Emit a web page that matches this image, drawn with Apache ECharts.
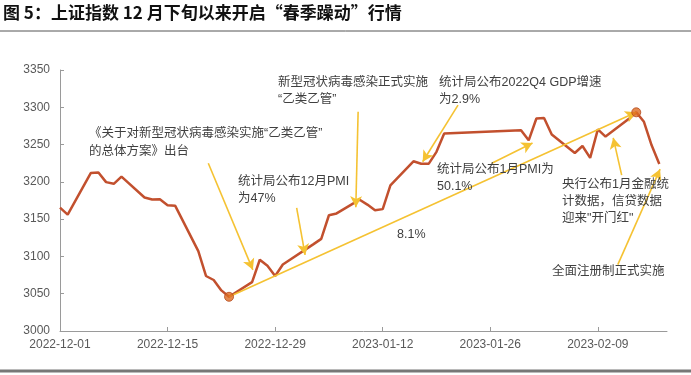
<!DOCTYPE html>
<html>
<head>
<meta charset="utf-8">
<script src="https://cdn.jsdelivr.net/npm/echarts@6/dist/echarts.min.js"></script>
<style>
  html, body { margin: 0; padding: 0; background: #fff; }
  #chart { width: 691px; height: 375px; }
</style>
</head>
<body>
<div id="chart"></div>
<script>
// trading days and SSE composite closes
const dates = [
  '2022-12-01', '2022-12-02', '2022-12-05', '2022-12-06', '2022-12-07', '2022-12-08', '2022-12-09',
  '2022-12-12', '2022-12-13', '2022-12-14', '2022-12-15', '2022-12-16', '2022-12-19', '2022-12-20',
  '2022-12-21', '2022-12-22', '2022-12-23', '2022-12-26', '2022-12-27', '2022-12-28', '2022-12-29',
  '2022-12-30', '2023-01-03', '2023-01-04', '2023-01-05', '2023-01-06', '2023-01-09', '2023-01-10',
  '2023-01-11', '2023-01-12', '2023-01-13', '2023-01-16', '2023-01-17', '2023-01-18', '2023-01-19',
  '2023-01-20', '2023-01-30', '2023-01-31', '2023-02-01', '2023-02-02', '2023-02-03', '2023-02-06',
  '2023-02-07', '2023-02-08', '2023-02-09', '2023-02-10', '2023-02-13', '2023-02-14', '2023-02-15',
  '2023-02-16', '2023-02-17'
]
const closes = [
  3165.47, 3156.14, 3211.81, 3212.53, 3199.62, 3197.35, 3206.95,
  3179.04, 3176.33, 3176.53, 3168.65, 3167.86, 3107.12, 3073.77,
  3068.41, 3054.43, 3045.87, 3065.56, 3095.57, 3087.40, 3073.70,
  3089.26, 3116.51, 3123.52, 3155.22, 3157.64, 3176.08, 3169.51,
  3161.84, 3163.45, 3195.31, 3227.59, 3224.24, 3224.41, 3240.28,
  3264.81, 3269.32, 3255.67, 3284.92, 3285.67, 3263.41, 3238.70,
  3248.09, 3232.11, 3270.38, 3260.67, 3284.16, 3293.28, 3280.49,
  3249.03, 3224.02
]
const startDate = '2022-12-01'
const yTicks = [3000, 3350, 50]

// annotation arrows in data units: [fromDay, fromValue, toDay, toValue]
const arrows = [
  [19.3, 3225, 25.1, 3082],
  [30.8, 3165, 31.9, 3102],
  [38.8, 3294, 38.5, 3166],
  [51.8, 3303, 47.2, 3227],
  [56.2, 3225, 61.5, 3252],
  [73.1, 3209, 72.0, 3259],
  [72.6, 3089, 78.1, 3217]
]
const notes = [
  ['《关于对新型冠状病毒感染实施“乙类乙管”', 89, 134],
  ['的总体方案》出台', 89, 152],
  ['统计局公布12月PMI', 238, 182],
  ['为47%', 238, 199],
  ['新型冠状病毒感染正式实施', 278, 83],
  ['“乙类乙管”', 278, 100],
  ['统计局公布2022Q4 GDP增速', 439, 83],
  ['为2.9%', 439, 100],
  ['统计局公布1月PMI为', 437, 170],
  ['50.1%', 437, 187],
  ['央行公布1月金融统', 562, 185],
  ['计数据，信贷数据', 562, 202],
  ['迎来"开门红"', 562, 219],
  ['全面注册制正式实施', 552, 272],
  ['8.1%', 397, 235]
]

const DAY = 86400000
function dayIndex(s) {
  const a = s.split('-').map(Number)
  const b = startDate.split('-').map(Number)
  return Math.round((Date.UTC(a[0], a[1] - 1, a[2]) - Date.UTC(b[0], b[1] - 1, b[2])) / DAY)
}
function dayLabel(n) {
  const b = startDate.split('-').map(Number)
  const d = new Date(Date.UTC(b[0], b[1] - 1, b[2]) + n * DAY)
  const p = v => String(v).padStart(2, '0')
  return d.getUTCFullYear() + '-' + p(d.getUTCMonth() + 1) + '-' + p(d.getUTCDate())
}

const lineData = dates.map((d, i) => [dayIndex(d), closes[i]])
let lo = 0
let hi = 0
closes.forEach((v, i) => {
  if (v < closes[lo]) lo = i
  if (v > closes[hi]) hi = i
})
const extremes = [lineData[lo], lineData[hi]]

const markData = arrows.map(a => [{ coord: [a[0], a[1]] }, { coord: [a[2], a[3]] }])
markData.push([{ coord: extremes[0] }, { coord: extremes[1] }])

const font = '"Liberation Sans", "Noto Sans CJK SC", sans-serif'
const textColor = '#404040'
const yellow = '#F5C232'

const chart = echarts.init(document.getElementById('chart'), null, { renderer: 'canvas' })
chart.setOption({
  animation: false,
  backgroundColor: '#fff',
  grid: { left: 60, right: 24, top: 70, bottom: 44 },
  xAxis: {
    type: 'value',
    min: 0,
    max: 79,
    interval: 14,
    splitLine: { show: false },
    axisLine: { lineStyle: { color: '#9a9a9a', width: 1 } },
    axisTick: { inside: true, length: 4, lineStyle: { color: '#9a9a9a' } },
    axisLabel: {
      color: '#595959',
      fontSize: 12,
      fontFamily: font,
      margin: 8,
      showMaxLabel: false,
      formatter: v => (v % 14 === 0 ? dayLabel(v) : '')
    }
  },
  yAxis: {
    type: 'value',
    min: yTicks[0],
    max: yTicks[1],
    interval: yTicks[2],
    splitLine: { show: false },
    axisLine: { show: true, lineStyle: { color: '#9a9a9a', width: 1 } },
    axisTick: { show: true, inside: true, length: 4, lineStyle: { color: '#9a9a9a' } },
    axisLabel: {
      color: '#595959',
      fontSize: 12,
      fontFamily: font,
      margin: 10,
      formatter: v => String(v)
    }
  },
  series: [
    {
      type: 'line',
      data: lineData,
      symbol: 'none',
      lineStyle: { color: '#C2502E', width: 2.5 },
      z: 3,
      markLine: {
        silent: true,
        symbol: ['none', 'arrow'],
        symbolSize: [9, 11],
        label: { show: false },
        lineStyle: { color: yellow, width: 1.6, type: 'solid' },
        data: markData,
        z: 4
      }
    },
    {
      type: 'scatter',
      data: extremes,
      symbolSize: 9,
      itemStyle: { color: '#DD6B22', borderColor: '#B44A1E', borderWidth: 1 },
      z: 5
    }
  ],
  graphic: [
    {
      type: 'text',
      left: 3,
      top: 4,
      style: {
        text: '图 5：上证指数 12 月下旬以来开启“春季躁动”行情',
        fill: '#111',
        font: 'bold 17px "Noto Sans CJK SC", sans-serif'
      }
    },
    {
      type: 'line',
      shape: { x1: 0, y1: 31, x2: 691, y2: 31 },
      style: { stroke: '#555', lineWidth: 1 }
    },
    {
      type: 'line',
      shape: { x1: 0, y1: 371, x2: 691, y2: 371 },
      style: { stroke: '#777', lineWidth: 3 }
    }
  ].concat(notes.map(n => ({
    type: 'text',
    x: n[1],
    y: n[2],
    z: 10,
    style: {
      text: n[0],
      fill: textColor,
      font: '12.5px ' + font,
      verticalAlign: 'middle'
    }
  })))
})
</script>
</body>
</html>
